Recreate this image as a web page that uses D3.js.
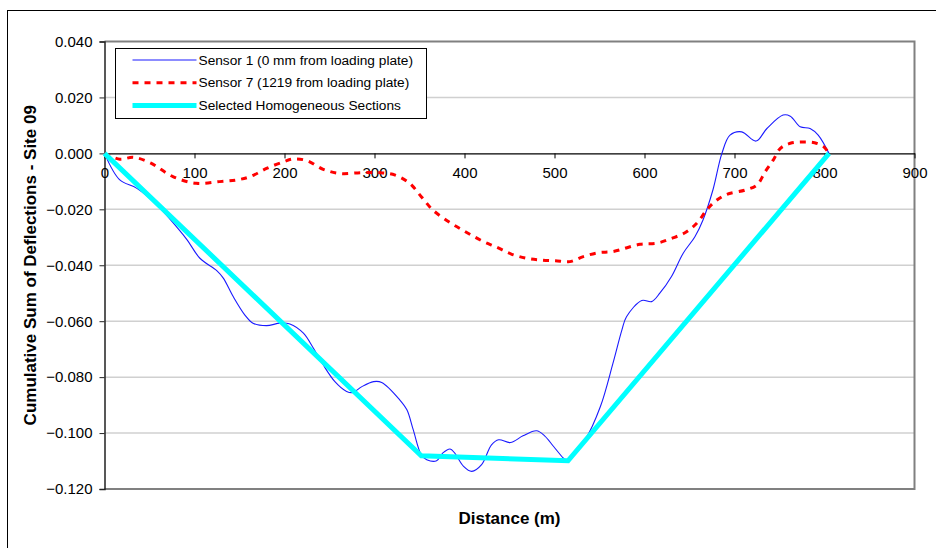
<!DOCTYPE html>
<html>
<head>
<meta charset="utf-8">
<script src="https://cdn.jsdelivr.net/npm/d3@7"></script>
<style>
  body { margin: 0; background: #fff; }
  svg { font-family: "Liberation Sans", Arial, sans-serif; }
</style>
</head>
<body>
<div id="chart"></div>
<script>
// distances (m) and cumulative sums
var sensor1Dist = [0, 17, 36, 60, 82, 92, 106, 125, 132, 143, 156, 165, 180, 195, 206, 221, 232, 243, 256, 269, 276, 286, 299, 308, 328, 336, 343, 352, 358, 369, 376, 384, 389, 399, 408, 419, 430, 438, 451, 465, 480, 489, 499, 510, 514, 534, 551, 565, 575, 580, 597, 608, 617, 630, 643, 656, 665, 676, 686, 695, 708, 724, 736, 754, 762, 773, 784, 793, 805];
var sensor1Vals = [0, -0.0095, -0.0125, -0.019, -0.027, -0.031, -0.0375, -0.042, -0.0446, -0.0512, -0.0578, -0.0607, -0.0616, -0.0607, -0.061, -0.0643, -0.0696, -0.0756, -0.0816, -0.0851, -0.0855, -0.0834, -0.0816, -0.0819, -0.0881, -0.0917, -0.0988, -0.1078, -0.1095, -0.1099, -0.1071, -0.1057, -0.1071, -0.1119, -0.1137, -0.1113, -0.1042, -0.1024, -0.1034, -0.101, -0.0992, -0.101, -0.1048, -0.109, -0.110, -0.1024, -0.0905, -0.075, -0.063, -0.0584, -0.0526, -0.053, -0.050, -0.044, -0.0357, -0.0298, -0.0238, -0.0131, 0, 0.0065, 0.0077, 0.0044, 0.0089, 0.0137, 0.0133, 0.0095, 0.0089, 0.0065, 0];

var sensor7Dist = [0, 17, 32, 51, 76, 102, 128, 147, 162, 180, 199, 210, 225, 243, 262, 285, 306, 323, 339, 352, 365, 384, 401, 419, 436, 452, 469, 484, 501, 517, 532, 549, 565, 595, 614, 630, 645, 658, 669, 678, 691, 712, 725, 734, 743, 751, 762, 776, 789, 799, 805];
var sensor7Vals = [0, -0.0021, -0.0014, -0.0034, -0.0083, -0.0107, -0.0101, -0.0095, -0.0083, -0.0054, -0.003, -0.002, -0.0026, -0.0057, -0.0072, -0.0069, -0.0069, -0.0078, -0.0107, -0.0155, -0.0203, -0.0248, -0.028, -0.0312, -0.0336, -0.036, -0.0375, -0.0381, -0.0384, -0.0387, -0.0369, -0.0355, -0.0351, -0.0325, -0.0321, -0.0304, -0.0284, -0.025, -0.0203, -0.0173, -0.0147, -0.0131, -0.0113, -0.0066, -0.0024, 0.0018, 0.0036, 0.0041, 0.0038, 0.0024, 0];

var sectionDist = [0, 352, 515, 805];
var sectionVals = [0, -0.1081, -0.1099, 0];

var xTicks = [0, 100, 200, 300, 400, 500, 600, 700, 800, 900];
var yTicks = [0.04, 0.02, 0, -0.02, -0.04, -0.06, -0.08, -0.1, -0.12];

var seriesNames = ["Sensor 1 (0 mm from loading plate)", "Sensor 7 (1219 from loading plate)", "Selected Homogeneous Sections"];

var width = 936, height = 548;
var margin = {top: 41.5, right: 21.5, bottom: 59, left: 104.5};

var svg = d3.select("#chart").append("svg")
    .attr("width", width)
    .attr("height", height);

// outer chart frame (runs off the right and bottom edge)
svg.append("rect")
    .attr("x", 7.5).attr("y", 10.5)
    .attr("width", 940).attr("height", 560)
    .attr("fill", "none")
    .attr("stroke", "#000")
    .attr("stroke-width", 1);

var x = d3.scaleLinear().domain([0, 900]).range([margin.left, width - margin.right]);
var y = d3.scaleLinear().domain([-0.12, 0.04]).range([height - margin.bottom, margin.top]);

// gridlines
svg.append("g")
  .selectAll("line")
  .data(yTicks.filter(function(d){ return d !== 0.04 && d !== -0.12 && d !== 0; }))
  .join("line")
    .attr("x1", x(0)).attr("x2", x(900))
    .attr("y1", function(d){ return y(d); })
    .attr("y2", function(d){ return y(d); })
    .attr("stroke", "#d0d0d0")
    .attr("stroke-width", 1.5);

// plot frame (grey, top/right/bottom)
svg.append("path")
    .attr("d", "M" + x(0) + "," + y(0.04) + "H" + x(900) + "V" + y(-0.12) + "H" + x(0))
    .attr("fill", "none")
    .attr("stroke", "#808080")
    .attr("stroke-width", 2);

// y axis
var yAxis = svg.append("g")
    .attr("transform", "translate(" + x(0) + ",0)")
    .call(d3.axisLeft(y).tickValues(yTicks).tickFormat(d3.format(".3f")).tickSize(5).tickPadding(7));
yAxis.select(".domain").attr("stroke", "#222").attr("stroke-width", 1.5);
yAxis.selectAll(".tick line").attr("stroke", "#222");
yAxis.selectAll("text")
    .attr("font-size", "15px")
    .attr("font-family", "Liberation Sans, Arial, sans-serif")
    .attr("fill", "#000");

// x axis sits at y = 0
var xAxis = svg.append("g")
    .attr("transform", "translate(0," + y(0) + ")")
    .call(d3.axisBottom(x).tickValues(xTicks).tickSize(5).tickPadding(9).tickSizeOuter(0));
xAxis.select(".domain").attr("stroke", "#000").attr("stroke-width", 1.2);
xAxis.selectAll(".tick line").attr("stroke", "#000");
xAxis.selectAll("text")
    .attr("font-size", "15px")
    .attr("font-family", "Liberation Sans, Arial, sans-serif")
    .attr("fill", "#000");

// series
var smooth = d3.line()
    .x(function(d){ return x(d[0]); })
    .y(function(d){ return y(d[1]); })
    .curve(d3.curveCatmullRom.alpha(0.5));

var straight = d3.line()
    .x(function(d){ return x(d[0]); })
    .y(function(d){ return y(d[1]); });

svg.append("path")
    .datum(d3.zip(sensor1Dist, sensor1Vals))
    .attr("d", smooth)
    .attr("fill", "none")
    .attr("stroke", "#1a1aff")
    .attr("stroke-width", 1.1);

svg.append("path")
    .datum(d3.zip(sensor7Dist, sensor7Vals))
    .attr("d", smooth)
    .attr("fill", "none")
    .attr("stroke", "#ff0000")
    .attr("stroke-width", 3)
    .attr("stroke-dasharray", "6,6");

svg.append("path")
    .datum(d3.zip(sectionDist, sectionVals))
    .attr("d", straight)
    .attr("fill", "none")
    .attr("stroke", "#00ffff")
    .attr("stroke-width", 5)
    .attr("stroke-linejoin", "miter");

// legend
var legend = svg.append("g").attr("transform", "translate(115.5,48.5)");
legend.append("rect")
    .attr("width", 311).attr("height", 70)
    .attr("fill", "#fff")
    .attr("stroke", "#000")
    .attr("stroke-width", 1);

var legendStyles = [
  {stroke: "#1a1aff", width: 1.1, dash: null},
  {stroke: "#ff0000", width: 3, dash: "6,6"},
  {stroke: "#00ffff", width: 5, dash: null}
];

var entry = legend.selectAll(".entry")
  .data(seriesNames)
  .join("g")
    .attr("class", "entry")
    .attr("transform", function(d, i){ return "translate(0," + (11.5 + i * 22.7) + ")"; });

entry.append("line")
    .attr("x1", 17).attr("x2", 81)
    .attr("stroke", function(d, i){ return legendStyles[i].stroke; })
    .attr("stroke-width", function(d, i){ return legendStyles[i].width; })
    .attr("stroke-dasharray", function(d, i){ return legendStyles[i].dash; });

entry.append("text")
    .attr("x", 83)
    .attr("dy", "0.35em")
    .attr("font-size", "13.7px")
    .text(function(d){ return d; });

// axis titles
svg.append("text")
    .attr("x", (x(0) + x(900)) / 2)
    .attr("y", 524)
    .attr("text-anchor", "middle")
    .attr("font-size", "17px")
    .attr("font-weight", "bold")
    .text("Distance (m)");

svg.append("text")
    .attr("transform", "translate(36," + ((y(0.04) + y(-0.12)) / 2) + ") rotate(-90)")
    .attr("text-anchor", "middle")
    .attr("font-size", "17px")
    .attr("font-weight", "bold")
    .text("Cumulative Sum of Deflections - Site 09");
</script>
</body>
</html>
